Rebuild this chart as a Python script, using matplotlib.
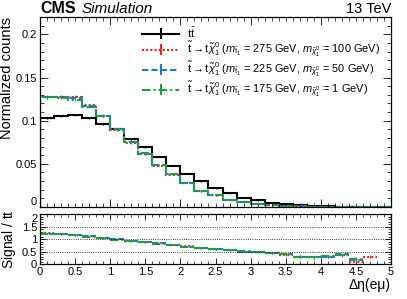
import numpy as np
import matplotlib
matplotlib.use("Agg")
import matplotlib.pyplot as plt

plt.rcParams['font.family'] = ['Liberation Sans', 'DejaVu Sans']
plt.rcParams['mathtext.fontset'] = 'custom'
plt.rcParams['mathtext.rm'] = 'Liberation Sans'
plt.rcParams['mathtext.it'] = 'Liberation Sans:italic'
plt.rcParams['mathtext.bf'] = 'Liberation Sans:bold'

# binning of delta eta(e mu)
edges = np.linspace(0, 5, 26)

# normalized distributions
ttbar = [0.103, 0.105, 0.107, 0.103, 0.096, 0.090, 0.079, 0.069, 0.0585, 0.048,
         0.0385, 0.0297, 0.022, 0.0158, 0.0108, 0.0077, 0.0046, 0.0030, 0.0022, 0.0012,
         0.0008, 0.0005, 0.0003, 0.0002, 0.0001]
sig_275_100 = [0.128, 0.128, 0.128, 0.118, 0.106, 0.089, 0.074, 0.061, 0.048, 0.0375,
               0.028, 0.0185, 0.0135, 0.0085, 0.0058, 0.0040, 0.0023, 0.0015, 0.0009, 0.0005,
               0.0003, 0.0002, 0.0001, 0.0001, 0.0]
sig_225_50 = [0.127, 0.127, 0.126, 0.117, 0.105, 0.090, 0.075, 0.061, 0.049, 0.0378,
              0.028, 0.0185, 0.0135, 0.0085, 0.0058, 0.0040, 0.0023, 0.0015, 0.0009, 0.0005,
              0.0003, 0.0002, 0.0001, 0.0, 0.0]
sig_175_1 = [0.127, 0.126, 0.124, 0.116, 0.105, 0.090, 0.075, 0.062, 0.049, 0.0380,
             0.028, 0.0188, 0.0136, 0.0086, 0.0058, 0.0040, 0.0023, 0.0015, 0.0009, 0.0005,
             0.0003, 0.0002, 0.0001, 0.0, 0.0]

# ratio signal / ttbar
ratio_275_100 = [1.23, 1.19, 1.16, 1.11, 1.05, 0.99, 0.93, 0.88, 0.83, 0.78,
                 0.71, 0.63, 0.60, 0.55, 0.50, 0.47, 0.43, 0.35, 0.30, 0.27,
                 0.30, 0.35, 0.10, 0.30, np.nan]
ratio_225_50 = [1.22, 1.19, 1.16, 1.11, 1.04, 0.99, 0.92, 0.87, 0.83, 0.77,
                0.70, 0.63, 0.59, 0.55, 0.50, 0.47, 0.43, 0.40, 0.30, 0.27,
                0.30, 0.40, 0.18, np.nan, np.nan]
ratio_175_1 = [1.22, 1.19, 1.15, 1.10, 1.04, 0.98, 0.92, 0.87, 0.82, 0.77,
               0.70, 0.63, 0.59, 0.55, 0.51, 0.48, 0.44, 0.41, 0.30, 0.28,
               0.31, 0.36, 0.22, np.nan, np.nan]

labels = [r'$\mathrm{t\bar{t}}$',
          r'$\tilde{\mathrm{t}}\rightarrow\mathrm{t}\tilde{\chi}_1^0$ ($m_{\tilde{\mathrm{t}}_1}$ = 275 GeV, $m_{\tilde{\chi}_1^0}$ = 100 GeV)',
          r'$\tilde{\mathrm{t}}\rightarrow\mathrm{t}\tilde{\chi}_1^0$ ($m_{\tilde{\mathrm{t}}_1}$ = 225 GeV, $m_{\tilde{\chi}_1^0}$ = 50 GeV)',
          r'$\tilde{\mathrm{t}}\rightarrow\mathrm{t}\tilde{\chi}_1^0$ ($m_{\tilde{\mathrm{t}}_1}$ = 175 GeV, $m_{\tilde{\chi}_1^0}$ = 1 GeV)']

colors = ['black', '#e8262a', '#1f78d0', '#17a03c']
styles = ['-', (0, (1, 1)), (0, (3, 1.5)), (0, (4, 1.5, 1, 1.5))]

fig = plt.figure(figsize=(4.07, 2.99), dpi=100)
ax = fig.add_axes([0.0983, 0.3077, 0.8624, 0.635])
rax = fig.add_axes([0.0983, 0.117, 0.8624, 0.167])

centers = 0.5 * (edges[:-1] + edges[1:])
handles = []
for vals, c, ls in zip([ttbar, sig_275_100, sig_225_50, sig_175_1], colors, styles):
    vals = np.array(vals)
    ax.stairs(vals, edges, color=c, linestyle=ls, lw=1.5)
    ax.errorbar(centers, vals, yerr=np.sqrt(vals) * 0.004, fmt='none', ecolor=c, lw=0.8)
    h = ax.errorbar([np.nan], [np.nan], yerr=[1], color=c, linestyle=ls, lw=1.5)
    handles.append(h)

ax.legend(handles, labels, loc='upper left', bbox_to_anchor=(0.275, 0.985),
          frameon=False, fontsize=7.9, handlelength=3.4, labelspacing=0.08,
          borderpad=0, handletextpad=0.7)

ax.set_xlim(0, 5)
ax.set_ylim(0, 0.22)
ax.set_yticks([0, 0.05, 0.1, 0.15, 0.2])
ax.set_yticklabels(['0', '0.05', '0.1', '0.15', '0.2'])
ax.set_ylabel('Normalized counts', fontsize=10.5, loc='top', labelpad=1)
ax.tick_params(labelbottom=False)

for vals, c, ls in zip([ratio_275_100, ratio_225_50, ratio_175_1], colors[1:], styles[1:]):
    vals = np.array(vals)
    rax.hlines(vals, edges[:-1], edges[1:], colors=c, linestyles=[ls], lw=1.5)
    err = 0.02 + 0.05 * centers ** 2 / 25
    rax.vlines(centers, vals - err, vals + err, colors=c, lw=0.8)

for yv in [0.5, 1, 1.5]:
    rax.axhline(yv, color='black', ls=':', lw=0.6)
rax.set_xlim(0, 5)
rax.set_ylim(0, 2)
rax.set_yticks([0, 0.5, 1, 1.5, 2])
rax.set_yticklabels(['0', '0.5', '1', '1.5', '2'])
rax.set_xticks([0, 0.5, 1, 1.5, 2, 2.5, 3, 3.5, 4, 4.5, 5])
rax.set_xticklabels(['0', '0.5', '1', '1.5', '2', '2.5', '3', '3.5', '4', '4.5', '5'])
rax.set_ylabel(r'Signal / $\mathrm{t\bar{t}}$', fontsize=10, labelpad=2)
rax.set_xlabel('Δη(eμ)', fontsize=10, loc='right', labelpad=1)

for a in (ax, rax):
    a.minorticks_on()
    a.set_xticks(np.arange(0, 5.01, 0.1), minor=True)
    a.tick_params(which='both', direction='in', top=True, right=True, labelsize=8, pad=2)
    a.tick_params(which='major', length=6, width=0.6)
    a.tick_params(which='minor', length=3, width=0.5)
    for s in a.spines.values():
        s.set_linewidth(0.9)
ax.set_yticks(np.arange(0, 0.221, 0.01), minor=True)
rax.set_yticks(np.arange(0, 2.01, 0.1), minor=True)
rax.tick_params(which='major', length=4)
rax.tick_params(which='minor', length=2)

# keep the shared "0" / "2" labels from colliding
ax.get_yticklabels()[0].set_verticalalignment('bottom')
rax.get_yticklabels()[-1].set_verticalalignment('top')

fig.text(0.1, 0.955, 'CMS', fontsize=11.5, fontweight='bold', va='baseline')
fig.text(0.2, 0.955, 'Simulation', fontsize=11, style='italic', va='baseline')
fig.text(0.9607, 0.955, '13 TeV', fontsize=10.5, ha='right', va='baseline')

fig.savefig('out.png', dpi=100)
